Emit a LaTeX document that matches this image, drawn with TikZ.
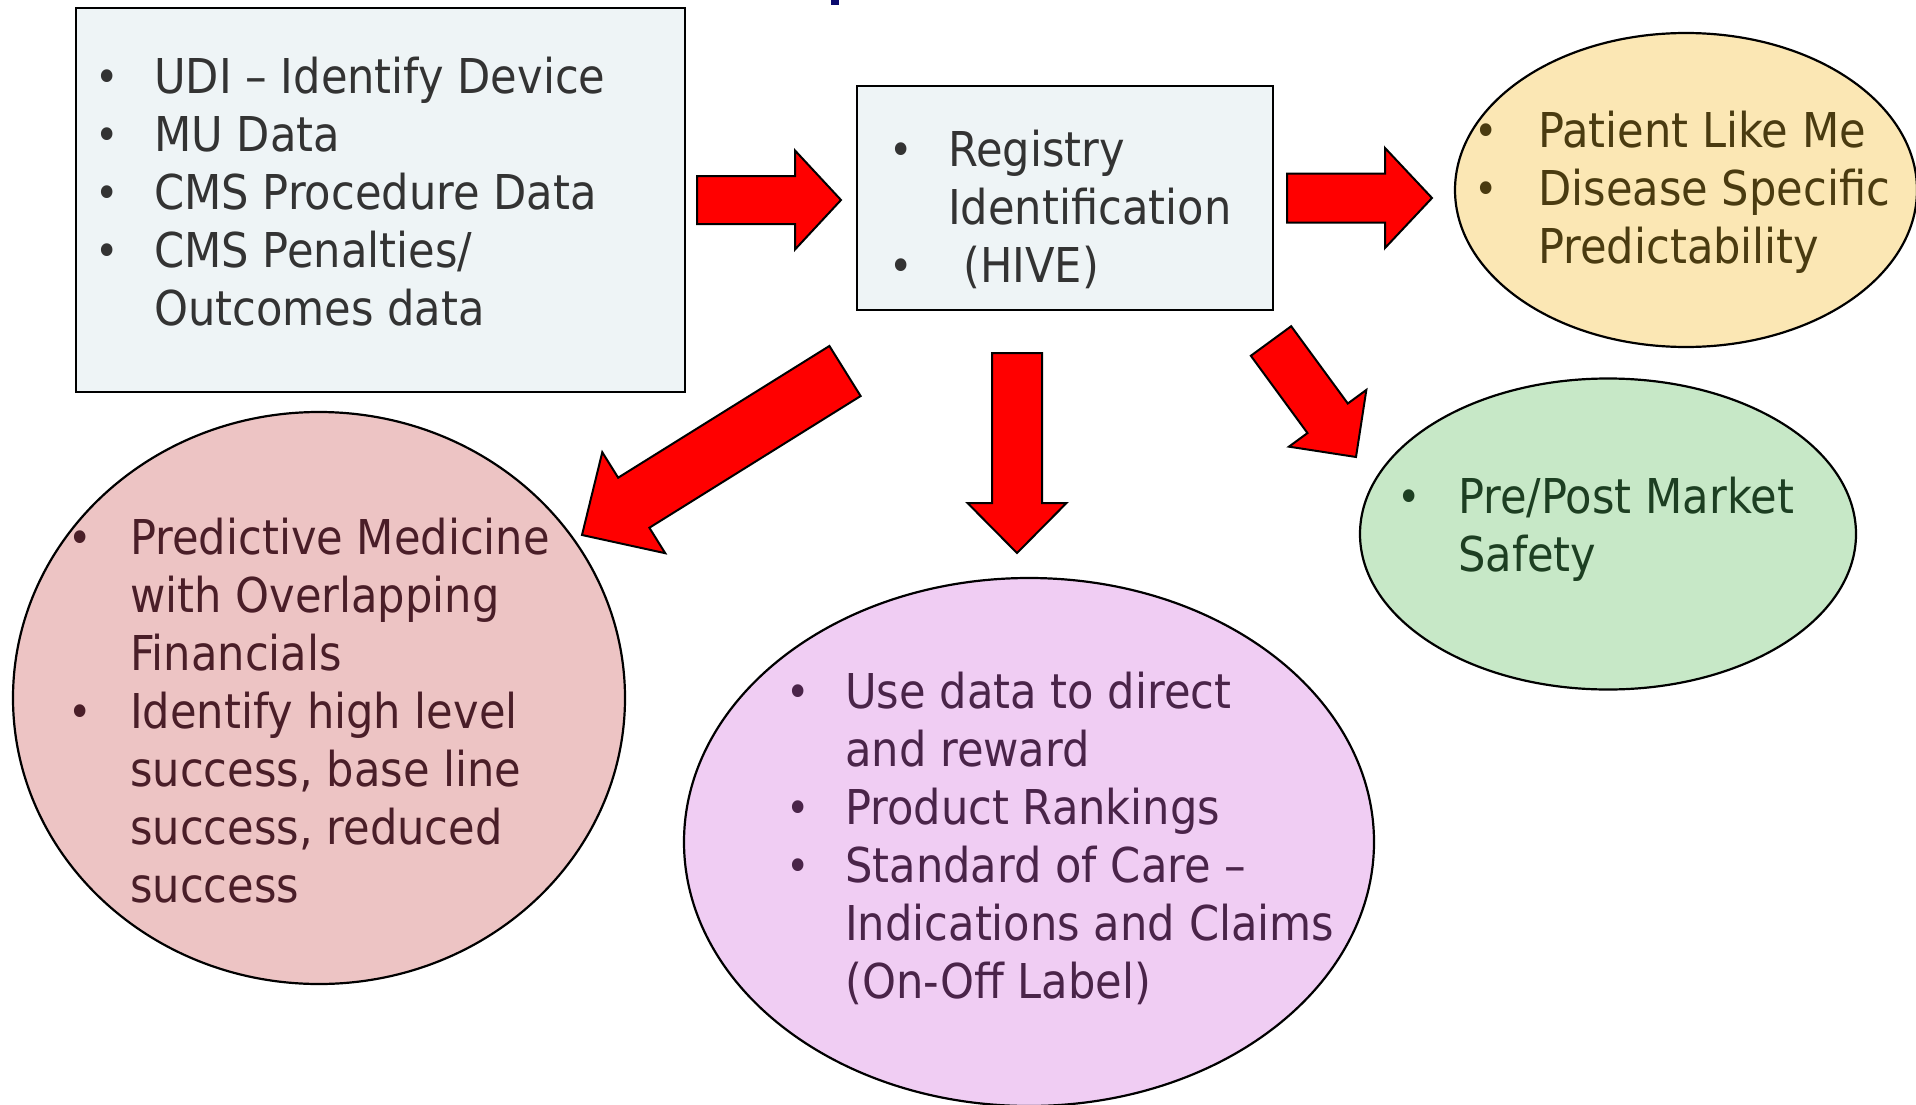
\documentclass[tikz,border=0pt]{standalone}
\usepackage{fontspec}
\setmainfont{DejaVu Sans}[FakeStretch=0.9]
\usetikzlibrary{shapes.geometric,calc}
\definecolor{boxfill}{HTML}{EEF4F6}
\definecolor{yelfill}{HTML}{FBE7B4}
\definecolor{grnfill}{HTML}{C7E8C7}
\definecolor{pnkfill}{HTML}{EDC4C4}
\definecolor{vioffill}{HTML}{F0CDF3}
\definecolor{boxtxt}{HTML}{333333}
\definecolor{yeltxt}{HTML}{4A3B10}
\definecolor{grntxt}{HTML}{1D3F22}
\definecolor{pnktxt}{HTML}{4A1E28}
\definecolor{viotxt}{HTML}{4A2449}
\definecolor{navy}{HTML}{0A0A6E}
\newcommand\bul[1][52pt]{\makebox[#1][l]{\hspace*{-7pt}\raisebox{1pt}{\fontsize{44}{44}\selectfont •}}}
\newcommand\ind[1][52pt]{\hspace*{#1}}
\newcommand\blockarrow[5]{%
  \path ($(#2)!#5!(#1)$) coordinate (hb);
  \draw[arrowshape] ($(#1)!#3!90:(#2)$) -- ($(hb)!#3!-90:(#1)$) -- ($(hb)!#4!-90:(#1)$) -- (#2)
     -- ($(hb)!#4!90:(#1)$) -- ($(hb)!#3!90:(#1)$) -- ($(#1)!#3!-90:(#2)$) -- cycle;}
\tikzset{
  infobox/.style={draw=black, line width=2.5pt, fill=boxfill, rectangle, inner sep=0pt},
  bubble/.style={draw=black, line width=2.2pt, ellipse, inner sep=0pt},
  txt/.style={anchor=base west, align=left, inner sep=0pt, font=\fontsize{48}{58}\selectfont},
  arrowshape/.style={draw=black, line width=2pt, fill=red, line join=miter},
}
\begin{document}
\begin{tikzpicture}[x=1pt,y=-1pt]
\useasboundingbox (0,0) rectangle (1916,1105);
% fragment of title
\fill[navy] (831,0) rectangle (839,5);
% boxes
\node[infobox, minimum width=609pt, minimum height=384pt] (src) at (380.5,200) {};
\node[infobox, minimum width=416pt, minimum height=224pt] (reg) at (1065,198) {};
% ellipses
\node[bubble, fill=yelfill, minimum width=462pt, minimum height=314pt] (yel) at (1686,190) {};
\node[bubble, fill=grnfill, minimum width=496pt, minimum height=311pt] (grn) at (1608,534) {};
\node[bubble, fill=pnkfill, minimum width=612pt, minimum height=572pt] (pnk) at (319,698) {};
\node[bubble, fill=vioffill, minimum width=690pt, minimum height=528pt] (vio) at (1029,842) {};
% texts (anchor = baseline of the last line)
\node[txt, text=boxtxt] (srctxt) at (102,325) {\bul UDI – Identify Device\\\bul MU Data\\\bul CMS Procedure Data\\\bul CMS Penalties/\\\ind Outcomes data};
\node[txt, text=boxtxt] (regtxt) at (896,282) {\bul Registry\\\ind Identification\\\bul\hspace*{15pt}(HIVE)};
\node[txt, text=yeltxt] (yeltxt) at (1481,263) {\bul[57pt]Patient Like Me\\\bul[57pt]Disease Specific\\\ind[57pt]Predictability};
\node[txt, text=grntxt] (grntxt) at (1404,571) {\bul[54pt]Pre/Post Market\\\ind[54pt]Safety};
\node[txt, text=pnktxt] (pnktxt) at (75,902) {\bul[55pt]Predictive Medicine\\\ind[55pt]with Overlapping\\\ind[55pt]Financials\\\bul[55pt]Identify high level\\\ind[55pt]success, base line\\\ind[55pt]success, reduced\\\ind[55pt]success};
\node[txt, text=viotxt] (viotxt) at (793,998) {\bul Use data to direct\\\ind and reward\\\bul Product Rankings\\\bul Standard of Care –\\\ind Indications and Claims\\\ind (On-Off Label)};
% arrows
\coordinate (a1t) at (697,200); \coordinate (a1h) at (841,200);
\coordinate (a2t) at (1287,198); \coordinate (a2h) at (1432,198);
\coordinate (a3t) at (1017,353); \coordinate (a3h) at (1017,553);
\coordinate (a4t) at (845,371); \coordinate (a4h) at (582,535);
\coordinate (a5t) at (1271,341); \coordinate (a5h) at (1356,457);
\blockarrow{a1t}{a1h}{24pt}{49.5pt}{46pt}
\blockarrow{a2t}{a2h}{24.5pt}{50pt}{47pt}
\blockarrow{a3t}{a3h}{25pt}{49.5pt}{50pt}
\blockarrow{a4t}{a4h}{29.5pt}{59.5pt}{61pt}
\blockarrow{a5t}{a5h}{25pt}{48pt}{48pt}
\end{tikzpicture}
\end{document}
